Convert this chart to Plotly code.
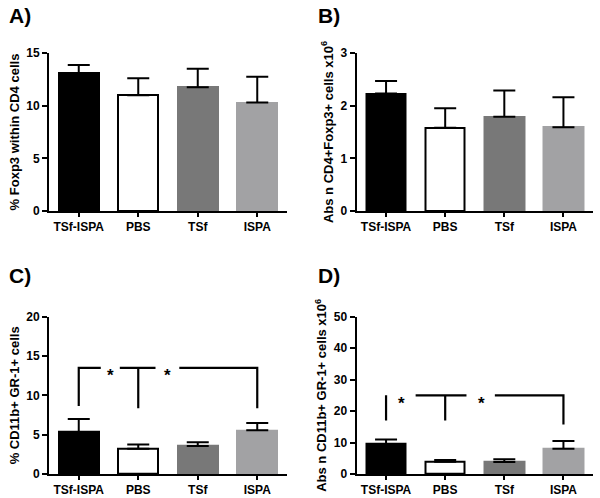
import plotly.graph_objects as go

categories = ["TSf-ISPA", "PBS", "TSf", "ISPA"]
bar_colors = ["#000000", "#ffffff", "#787878", "#a2a2a4"]
edge_colors = ["#000000", "#000000", "#787878", "#a2a2a4"]

a_mean = [13.1, 11.0, 11.75, 10.3]
a_sem = [0.75, 1.6, 1.75, 2.45]
b_mean = [2.23, 1.58, 1.79, 1.59]
b_sem = [0.24, 0.37, 0.5, 0.57]
c_mean = [5.35, 3.2, 3.55, 5.55]
c_sem = [1.65, 0.55, 0.5, 0.95]
d_mean = [9.5, 3.9, 3.8, 8.05]
d_sem = [1.5, 0.55, 0.85, 2.45]

a_ticks = [0, 5, 10, 15]
b_ticks = [0, 1, 2, 3]
c_ticks = [0, 5, 10, 15, 20]
d_ticks = [0, 10, 20, 30, 40, 50]

# significance brackets (x in category units, y in data units)
c_bracket_segments = [
    ([0, 0, 0.37], [8.65, 13.5, 13.5]),
    ([0.69, 1.29], [13.5, 13.5]),
    ([1, 1], [13.5, 8.35]),
    ([1.69, 3, 3], [13.5, 13.5, 8.35]),
]
c_stars_x = [0.54, 1.49]
c_stars_y = [13.5, 13.5]
d_bracket_segments = [
    ([0, 0], [25, 17.0]),
    ([0.5, 1.36], [25, 25]),
    ([1, 1], [25, 17.0]),
    ([1.84, 3, 3], [25, 25, 15.7]),
]
d_stars_x = [0.26, 1.61]
d_stars_y = [25, 25]

W, H = 600, 498
FONT = "Arial, 'Liberation Sans', sans-serif"

panels = [
    dict(key="", mean=a_mean, sem=a_sem, ticks=a_ticks, x=(49, 287), y=(53, 211),
         title="% Foxp3 within CD4 cells", label="A)", lx=7, ly=15),
    dict(key="2", mean=b_mean, sem=b_sem, ticks=b_ticks, x=(356.5, 593), y=(53, 211),
         title="Abs n CD4+Foxp3+ cells x10<sup>6</sup>", label="B)", lx=316, ly=15),
    dict(key="3", mean=c_mean, sem=c_sem, ticks=c_ticks, x=(49, 287), y=(316.7, 474),
         title="% CD11b+ GR-1+ cells", label="C)", lx=7, ly=275),
    dict(key="4", mean=d_mean, sem=d_sem, ticks=d_ticks, x=(356.5, 593), y=(316.7, 474),
         title="Abs n CD11b+ GR-1+ cells x10<sup>6</sup>", label="D)", lx=316, ly=275),
]

fig = go.Figure()
annotations = []
layout = {}
for p in panels:
    k = p["key"]
    xa, ya = "x" + k, "y" + k
    fig.add_trace(go.Bar(
        x=list(range(len(categories))), y=p["mean"], xaxis=xa, yaxis=ya,
        width=0.67,
        marker=dict(color=bar_colors, line=dict(color=edge_colors, width=2)),
        error_y=dict(type="data", symmetric=False, array=p["sem"],
                     arrayminus=[0] * len(p["sem"]), thickness=2, width=11,
                     color="#000000"),
        showlegend=False, hoverinfo="skip",
    ))
    x0, x1 = p["x"]
    y0, y1 = p["y"]
    ymax = p["ticks"][-1]
    layout["xaxis" + k] = dict(
        domain=[x0 / W, x1 / W], anchor=ya, range=[-0.5, 3.5],
        tickmode="array", tickvals=list(range(len(categories))), ticktext=categories,
        showline=True, linecolor="#000000", linewidth=2, ticks="outside",
        ticklen=4, tickwidth=2, tickcolor="#000000", showgrid=False, zeroline=False,
        tickfont=dict(family=FONT, size=12, color="#000000", weight="bold"),
        fixedrange=True,
    )
    layout["yaxis" + k] = dict(
        domain=[(H - y1) / H, (H - y0) / H], anchor=xa, range=[0, ymax],
        tickmode="array", tickvals=p["ticks"],
        showline=True, linecolor="#000000", linewidth=2, ticks="outside",
        ticklen=5, tickwidth=2, tickcolor="#000000", showgrid=False, zeroline=False,
        tickfont=dict(family=FONT, size=12, color="#000000", weight="bold"),
        title=dict(text=p["title"], standoff=4,
                   font=dict(family=FONT, size=13, color="#000000", weight="bold")),
        automargin=True,
        fixedrange=True,
    )
    annotations.append(dict(
        text=p["label"], x=p["lx"] / W, y=1 - p["ly"] / H,
        xref="paper", yref="paper", showarrow=False,
        xanchor="left", yanchor="middle",
        font=dict(family=FONT, size=21, color="#000000", weight="bold"),
    ))

for key, segs, sx, sy in [("3", c_bracket_segments, c_stars_x, c_stars_y),
                          ("4", d_bracket_segments, d_stars_x, d_stars_y)]:
    for xs, ys in segs:
        fig.add_trace(go.Scatter(
            x=xs, y=ys, xaxis="x" + key, yaxis="y" + key, mode="lines",
            line=dict(color="#000000", width=2.2), showlegend=False, hoverinfo="skip",
        ))
    for xv, yv in zip(sx, sy):
        annotations.append(dict(
            text="*", x=xv, y=yv, xref="x" + key, yref="y" + key, showarrow=False,
            xanchor="center", yanchor="middle", yshift=-8,
            font=dict(family=FONT, size=17, color="#000000", weight="bold"),
        ))

fig.update_layout(
    width=W, height=H, margin=dict(l=0, r=0, t=0, b=0, autoexpand=False),
    paper_bgcolor="#ffffff", plot_bgcolor="#ffffff",
    bargap=0, annotations=annotations, **layout,
)

fig.write_html(
    "out.html",
    config={"displayModeBar": False},
    post_script="document.body.style.margin='0px';document.body.style.padding='0px';",
)
